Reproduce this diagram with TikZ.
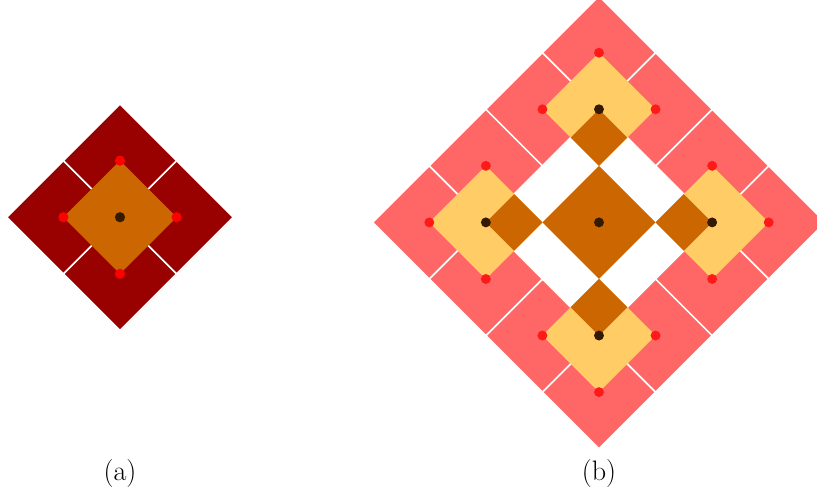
\documentclass[tikz,border=0pt]{standalone}
\usepackage{tikz}
\usetikzlibrary{calc}
\definecolor{tileDark}{HTML}{990000}
\definecolor{tilePink}{HTML}{FF6666}
\definecolor{coreOrange}{HTML}{CC6600}
\definecolor{haloYellow}{HTML}{FFCC66}
\definecolor{dotRed}{HTML}{FF0000}
\definecolor{dotRedB}{HTML}{FF1A1A}
\definecolor{dotBrown}{HTML}{331A00}
\begin{document}
\begin{tikzpicture}[
  tileA/.style={fill=tileDark, draw=white, line width=1.1pt},
  tileB/.style={fill=tilePink, draw=white, line width=1.1pt},
  core/.style={fill=coreOrange},
  halo/.style={fill=haloYellow},
  rdot/.style={fill=dotRed},
  rdotb/.style={fill=dotRedB},
  cdot/.style={fill=dotBrown},
  lbl/.style={font=\fontsize{20}{24}\selectfont}]
\useasboundingbox (0,0) rectangle (20.425,-12.4);
% panel (a): 2x2 tiles around one core
\begin{scope}[shift={(3.0,-5.43)}, rotate=45, scale=2]
  \foreach \i in {-1,0} \foreach \j in {-1,0}
    \path[tileA] (\i,\j) rectangle ++(1,1);
  \path[core] (-0.5,-0.5) rectangle (0.5,0.5);
  \foreach \sx/\sy in {1/1,-1/1,1/-1,-1/-1}
    \fill[rdot] ({0.5*\sx},{0.5*\sy}) circle[radius=0.064];
  \fill[cdot] (0,0) circle[radius=0.064];
\end{scope}
% panel (b): outer ring of 4x4 tiles, four halos
\begin{scope}[shift={(14.975,-5.56)}, rotate=45, scale=2]
  \foreach \i in {-2,...,1} \foreach \j in {-2,...,1} {
    \ifnum\numexpr\i*(\i+1)+\j*(\j+1)\relax>0
      \path[tileB] (\i,\j) rectangle ++(1,1);
    \fi}
  \foreach \sx/\sy in {1/1,-1/1,1/-1,-1/-1} {
    \path[halo] ({\sx-0.5},{\sy-0.5}) rectangle ++(1,1);
    \path[core] ({0.5*\sx},{0.5*\sy}) rectangle (\sx,\sy);
  }
  \path[core] (-0.5,-0.5) rectangle (0.5,0.5);
  \foreach \sx/\sy in {1/1,-1/1,1/-1,-1/-1} {
    \fill[rdotb] ({1.5*\sx},{1.5*\sy}) circle[radius=0.062];
    \fill[rdotb] ({0.5*\sx},{1.5*\sy}) circle[radius=0.062];
    \fill[rdotb] ({1.5*\sx},{0.5*\sy}) circle[radius=0.062];
    \fill[cdot] (\sx,\sy) circle[radius=0.062];
  }
  \fill[cdot] (0,0) circle[radius=0.062];
\end{scope}
\node[lbl] (capA) at (3.0,-11.83) {(a)};
\node[lbl] (capB) at (14.975,-11.83) {(b)};
\end{tikzpicture}
\end{document}
